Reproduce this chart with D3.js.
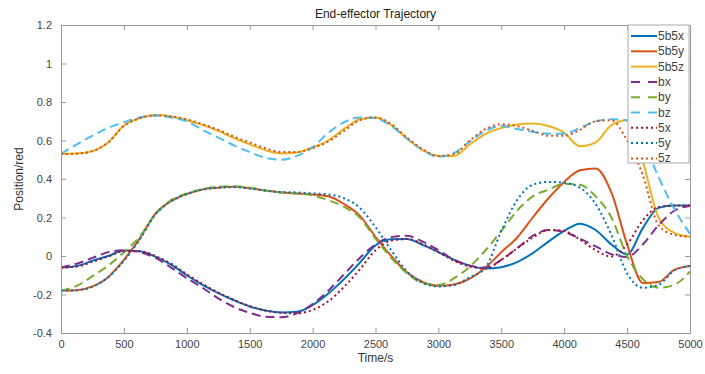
<!DOCTYPE html>
<html><head><meta charset="utf-8">
<script src="https://cdn.jsdelivr.net/npm/d3@7"></script>
<style>
body{margin:0;background:#fff;}
svg{font-family:"Liberation Sans",Arial,Helvetica,sans-serif;}
</style></head>
<body><svg id="c" width="705" height="374"></svg>
<script>
// time samples (s)
const times = d3.range(0, 5001, 125);
const xTicks = [0,500,1000,1500,2000,2500,3000,3500,4000,4500,5000];
const yTicks = [-0.4,-0.2,0,0.2,0.4,0.6,0.8,1,1.2];
const seriesNames = ["5b5x","5b5y","5b5z","bx","by","bz","5x","5y","5z"];

const s5b5x = [-0.06,-0.052,-0.025,0.0,0.028,0.025,-0.003,-0.045,-0.10,-0.15,-0.193,-0.23,-0.262,-0.283,-0.293,-0.29,-0.255,-0.195,-0.12,-0.035,0.055,0.087,0.088,0.058,0.02,-0.02,-0.05,-0.065,-0.058,-0.032,0.015,0.075,0.13,0.168,0.135,0.06,0.008,0.145,0.25,0.262,0.262];
const s5b5y = [-0.18,-0.178,-0.158,-0.11,-0.02,0.09,0.22,0.285,0.322,0.345,0.355,0.36,0.352,0.34,0.33,0.325,0.32,0.31,0.27,0.21,0.10,0.0,-0.085,-0.135,-0.155,-0.148,-0.118,-0.06,0.02,0.095,0.20,0.30,0.385,0.445,0.455,0.33,0.06,-0.14,-0.135,-0.072,-0.052];
const s5b5z = [0.53,0.532,0.545,0.59,0.678,0.715,0.732,0.725,0.705,0.68,0.65,0.612,0.58,0.55,0.533,0.538,0.565,0.60,0.66,0.71,0.72,0.68,0.61,0.55,0.52,0.52,0.58,0.635,0.665,0.683,0.688,0.675,0.64,0.57,0.59,0.68,0.705,0.49,0.20,0.12,0.10];
const sbx = [-0.06,-0.04,-0.01,0.02,0.03,0.02,-0.01,-0.06,-0.115,-0.165,-0.22,-0.265,-0.295,-0.315,-0.318,-0.298,-0.25,-0.18,-0.095,-0.01,0.06,0.098,0.105,0.075,0.03,-0.02,-0.05,-0.06,-0.02,0.04,0.105,0.135,0.125,0.09,0.05,0.01,-0.005,0.06,0.16,0.235,0.26];
const sby = [-0.18,-0.155,-0.105,-0.05,0.02,0.10,0.215,0.29,0.325,0.348,0.36,0.362,0.355,0.34,0.33,0.325,0.315,0.29,0.255,0.20,0.09,-0.01,-0.09,-0.14,-0.15,-0.115,-0.055,0.03,0.13,0.235,0.31,0.345,0.375,0.37,0.31,0.20,0.0,-0.12,-0.165,-0.15,-0.08];
const sbz = [0.53,0.58,0.625,0.665,0.695,0.72,0.73,0.72,0.70,0.655,0.615,0.575,0.54,0.51,0.50,0.52,0.565,0.64,0.695,0.72,0.715,0.675,0.61,0.55,0.515,0.535,0.595,0.65,0.675,0.66,0.645,0.635,0.635,0.665,0.70,0.71,0.705,0.60,0.41,0.245,0.115];
const s5x = [-0.06,-0.055,-0.03,-0.003,0.025,0.025,0.0,-0.04,-0.095,-0.145,-0.19,-0.228,-0.26,-0.283,-0.295,-0.298,-0.28,-0.235,-0.16,-0.07,0.03,0.08,0.088,0.062,0.02,-0.025,-0.055,-0.065,-0.02,0.04,0.095,0.135,0.13,0.085,0.03,-0.003,0.06,0.185,0.255,0.262,0.262];
const s5y = [-0.18,-0.178,-0.16,-0.11,-0.025,0.085,0.215,0.285,0.322,0.345,0.355,0.358,0.35,0.34,0.332,0.33,0.325,0.32,0.30,0.25,0.15,0.03,-0.08,-0.14,-0.158,-0.15,-0.11,-0.06,0.13,0.29,0.37,0.385,0.38,0.355,0.27,0.11,-0.09,-0.165,-0.15,-0.075,-0.052];
const s5z = [0.53,0.532,0.545,0.59,0.675,0.715,0.73,0.725,0.71,0.685,0.655,0.62,0.59,0.56,0.54,0.54,0.56,0.595,0.65,0.705,0.72,0.685,0.615,0.555,0.52,0.53,0.60,0.66,0.684,0.675,0.65,0.625,0.625,0.655,0.70,0.705,0.60,0.42,0.16,0.11,0.10];

const seriesData = [s5b5x,s5b5y,s5b5z,sbx,sby,sbz,s5x,s5y,s5z];
const colors = ["#0072BD","#D95319","#EDB120","#7E2F8E","#77AC30","#4DBEEE","#A2142F","#0072BD","#D95319"];
const dashes = [null,null,null,"9,5","9,5","9,5","2,3","2,3","2,3"];

const svg = d3.select("#c");
const L=61, R=690, T=25, B=333;
const x = d3.scaleLinear().domain([0,5000]).range([L,R]);
const y = d3.scaleLinear().domain([-0.4,1.2]).range([B,T]);

svg.append("rect").attr("x",0).attr("y",0).attr("width",705).attr("height",374).attr("fill","#fff");

svg.append("defs").append("clipPath").attr("id","clip")
  .append("rect").attr("x",L).attr("y",T).attr("width",R-L).attr("height",B-T);

const line = d3.line().x((d,i)=>x(times[i])).y(d=>y(d)).curve(d3.curveMonotoneX);
const g = svg.append("g").attr("clip-path","url(#clip)");
seriesData.forEach((s,k)=>{
  g.append("path").attr("d",line(s)).attr("fill","none")
   .attr("stroke",colors[k]).attr("stroke-width",2)
   .attr("stroke-dasharray",dashes[k]);
});

// axes
const axColor="#999", txtColor="#444";
const xb = svg.append("g").attr("transform",`translate(0,${B})`).call(d3.axisBottom(x).tickValues(xTicks).tickSize(-5).tickPadding(7).tickFormat(d3.format("d")));
const xt = svg.append("g").attr("transform",`translate(0,${T})`).call(d3.axisTop(x).tickValues(xTicks).tickSize(-5).tickFormat(""));
const yl = svg.append("g").attr("transform",`translate(${L},0)`).call(d3.axisLeft(y).tickValues(yTicks).tickSize(-5).tickPadding(9).tickFormat(d=>String(+d.toFixed(1))));
const yr = svg.append("g").attr("transform",`translate(${R},0)`).call(d3.axisRight(y).tickValues(yTicks).tickSize(-5).tickFormat(""));
[xb,xt,yl,yr].forEach(a=>{
  a.select(".domain").attr("stroke",axColor);
  a.selectAll(".tick line").attr("stroke",axColor);
  a.selectAll(".tick text").attr("fill",txtColor).style("font-size","11px").style("font-family","Liberation Sans, Arial, sans-serif");
});

// title and labels
svg.append("text").attr("x",(L+R)/2).attr("y",18).attr("text-anchor","middle")
  .style("font-size","12px").attr("fill","#222").text("End-effector Trajectory");
svg.append("text").attr("x",(L+R)/2).attr("y",362).attr("text-anchor","middle")
  .style("font-size","12px").attr("fill","#333").text("Time/s");
svg.append("text").attr("transform",`translate(23,${(T+B)/2}) rotate(-90)`).attr("text-anchor","middle")
  .style("font-size","12px").attr("fill","#333").text("Position/red");

// legend
const lg = svg.append("g");
lg.append("rect").attr("x",628).attr("y",25).attr("width",61).attr("height",138)
  .attr("fill","#fff").attr("stroke","#aaa").attr("stroke-width",1);
seriesNames.forEach((n,k)=>{
  const yy = 36 + k*15.3;
  lg.append("line").attr("x1",631).attr("x2",657).attr("y1",yy).attr("y2",yy)
    .attr("stroke",colors[k]).attr("stroke-width",2)
    .attr("stroke-dasharray",dashes[k]?(k<6?"9,8":"2,3"):null);
  lg.append("text").attr("x",658).attr("y",yy+4).style("font-size","12px").attr("fill","#444").text(n);
});
</script></body></html>
